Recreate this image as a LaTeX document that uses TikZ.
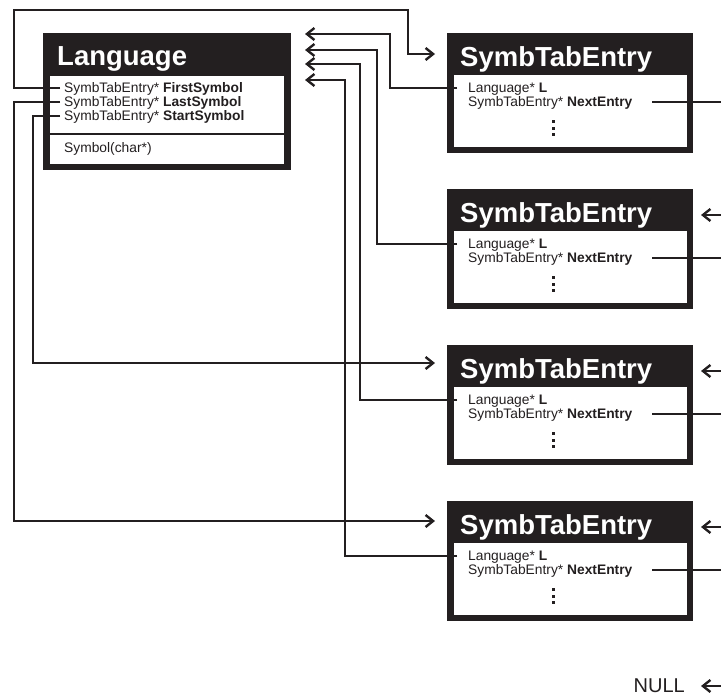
\documentclass[tikz,border=0pt]{standalone}
\usepackage{fontspec}
\setmainfont{Liberation Sans}
\usetikzlibrary{arrows.meta}
\definecolor{ink}{HTML}{231F20}
\begin{document}
\begin{tikzpicture}[x=1pt,y=-1pt,
  frame/.style={fill=ink, draw=none, anchor=north west, inner sep=0pt},
  panel/.style={fill=white, draw=none, anchor=north west, inner sep=0pt},
  title/.style={text=white, font=\fontsize{27.5}{30}\selectfont\bfseries, anchor=base west, inner sep=0pt},
  field/.style={text=ink, font=\fontsize{13.8}{15}\selectfont, anchor=base west, inner sep=0pt},
  link/.style={draw=ink, line width=2.4pt},
  ptr/.style={link, -{Straight Barb[length=7.5pt,width=12pt]}},
]
\useasboundingbox (0,0) rectangle (721,696);

% ---- class Language ----
\node[frame, minimum width=248pt, minimum height=137pt] (lang) at (43,33) {};
\node[panel, minimum width=234pt, minimum height=88pt] (langp) at (50,76) {};
\draw[ink, line width=1.4pt] (50,134) -- (284,134);
\node[title] (langt) at (57,65) {Language};
\node[field] (lfirst) at (64,92) {SymbTabEntry* \textbf{FirstSymbol}};
\node[field] (llast) at (64,106) {SymbTabEntry* \textbf{LastSymbol}};
\node[field] (lstart) at (64,120) {SymbTabEntry* \textbf{StartSymbol}};
\node[field] (lmeth) at (64,152) {Symbol(char*)};
\coordinate (pfirst) at (60,88);
\coordinate (plast) at (60,102);
\coordinate (pstart) at (60,116);

% ---- the four symbol table entries ----
\foreach \i/\T in {1/33,2/189,3/345,4/501}{
  \node[frame, minimum width=246pt, minimum height=120pt] (s\i) at (447,\T) {};
  \node[panel, minimum width=233pt, minimum height=72pt] (s\i p) at (454,\T+42) {};
  \node[title] (s\i t) at (460,\T+33) {SymbTabEntry};
  \node[field] (s\i l) at (468,\T+59) {Language* \textbf{L}};
  \node[field] (s\i n) at (468,\T+73) {SymbTabEntry* \textbf{NextEntry}};
  \foreach \d in {88,95,101}
    \fill[ink] (551.5,\T+\d-1.5) rectangle ++(3,3);
  \coordinate (s\i L) at (457,\T+55);
  \coordinate (s\i N) at (652,\T+69);
  \coordinate (s\i out) at (722,\T+69);
  \coordinate (s\i src) at (722,\T+26);
  \coordinate (s\i in) at (701,\T+26);
}

% ---- Language -> entries ----
\coordinate (firstin) at (435,54);
\coordinate (startin) at (435,363);
\coordinate (lastin) at (435,521);
\draw[ptr] (pfirst) -| (14,10) -| (408,54) -- (firstin);
\draw[ptr] (pstart) -| (33,363) -- (startin);
\draw[ptr] (plast) -| (14,521) -- (lastin);

% ---- entries -> Language ----
\coordinate (back1) at (305,34);
\coordinate (back2) at (305,50);
\coordinate (back3) at (305,64);
\coordinate (back4) at (305,80);
\draw[ptr] (s1L) -| (390,34) -- (back1);
\draw[ptr] (s2L) -| (377,50) -- (back2);
\draw[ptr] (s3L) -| (360,64) -- (back3);
\draw[ptr] (s4L) -| (345,80) -- (back4);

% ---- NextEntry chain ----
\foreach \i in {1,2,3,4}
  \draw[link] (s\i N) -- (s\i out);
\foreach \i in {2,3,4}
  \draw[ptr] (s\i src) -- (s\i in);

\node[font=\fontsize{20}{22}\selectfont, text=ink, anchor=base east, inner sep=0pt] (null) at (685,692.5) {NULL};
\coordinate (nullsrc) at (722,686);
\coordinate (nullin) at (701,686);
\draw[ptr] (nullsrc) -- (nullin);
\end{tikzpicture}
\end{document}
